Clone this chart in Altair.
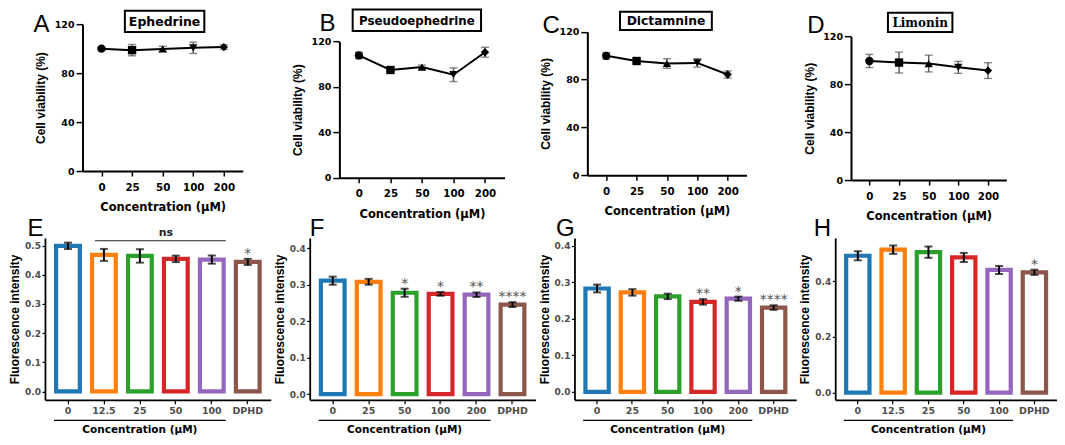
import altair as alt
import pandas as pd

# ---------------- data ----------------
top_conc = ["0", "25", "50", "100", "200"]
top_names = ["Ephedrine", "Pseudoephedrine", "Dictamnine", "Limonin"]
top_letters = ["A", "B", "C", "D"]
ephedrine_mean = [100.0, 98.8, 99.8, 100.7, 101.3]
ephedrine_err = [1.0, 4.6, 2.1, 4.6, 1.9]
pseudo_mean = [107.8, 95.0, 97.6, 90.8, 110.6]
pseudo_err = [2.8, 1.5, 1.7, 6.0, 4.4]
dictamnine_mean = [99.8, 95.5, 93.4, 93.9, 84.2]
dictamnine_err = [2.8, 1.8, 4.0, 3.5, 3.0]
limonin_mean = [99.5, 98.2, 97.4, 94.2, 91.5]
limonin_err = [5.5, 8.7, 7.0, 5.0, 6.6]

bottom_letters = ["E", "F", "G", "H"]
cats_E = ["0", "12.5", "25", "50", "100", "DPHD"]
E_mean = [0.499, 0.468, 0.4645, 0.4545, 0.452, 0.444]
E_err = [0.011, 0.0205, 0.023, 0.011, 0.014, 0.0105]
E_sig = ["", "", "", "", "", "*"]
cats_F = ["0", "25", "50", "100", "200", "DPHD"]
F_mean = [0.311, 0.308, 0.278, 0.2748, 0.2726, 0.2456]
F_err = [0.011, 0.008, 0.011, 0.005, 0.0062, 0.0066]
F_sig = ["", "", "*", "*", "**", "****"]
cats_G = ["0", "25", "50", "100", "200", "DPHD"]
G_mean = [0.2826, 0.272, 0.261, 0.246, 0.2547, 0.2305]
G_err = [0.0106, 0.0088, 0.0075, 0.0075, 0.0057, 0.0062]
G_sig = ["", "", "", "**", "*", "****"]
cats_H = ["0", "12.5", "25", "50", "100", "DPHD"]
H_mean = [0.492, 0.514, 0.505, 0.486, 0.441, 0.4326]
H_err = [0.0163, 0.015, 0.0203, 0.0163, 0.0145, 0.0093]
H_sig = ["", "", "", "", "", "*"]

x_title = "Concentration (μM)"
ytitle_top = "Cell viability (%)"
ytitle_bottom = "Fluorescence intensity"

# ---------------- style ----------------
PALETTE = ["#1f77b4", "#ff7f0e", "#2ca02c", "#d62728", "#9467bd", "#8c564b"]
SHAPES = ["circle", "square", "triangle-up", "triangle-down", "diamond"]
COLW = [226, 226, 222, 222]
ROWH = [156, 162]
WIDE = "DejaVu Sans"
NARROW = "Liberation Sans"


def top_panel(i, means, errs, xr, yr, xoff, box, letter_xy, name_font, name_size):
    df = pd.DataFrame({"conc": top_conc, "mean": means, "err": errs})
    df["lo"] = df["mean"] - df["err"]
    df["hi"] = df["mean"] + df["err"]

    def X(f):
        return alt.X(f"{f}:N", sort=top_conc,
                     scale=alt.Scale(type="point", padding=0.62, range=xr),
                     axis=alt.Axis(title=x_title, labelAngle=0, offset=xoff,
                                   labelFont=WIDE, labelFontWeight="bold", labelFontSize=10.3,
                                   labelColor="black", labelPadding=6,
                                   titleFont=WIDE, titleFontWeight="bold", titleFontSize=11.5,
                                   titleColor="black", titlePadding=9,
                                   tickSize=5, tickWidth=1.5, tickColor="black",
                                   domainColor="black", domainWidth=2))

    def Y(f):
        return alt.Y(f"{f}:Q",
                     scale=alt.Scale(domain=[0, 120], range=yr, nice=False, zero=False),
                     axis=alt.Axis(values=[0, 40, 80, 120], title=ytitle_top, offset=-xr[0],
                                   labelFont=WIDE, labelFontWeight="bold", labelFontSize=9.5,
                                   labelColor="black", labelPadding=2,
                                   titleFont=NARROW, titleFontWeight="bold", titleFontSize=12,
                                   titleColor="black", titlePadding=6.5,
                                   tickSize=6.5, tickWidth=1.5, tickColor="black",
                                   domainColor="black", domainWidth=2, grid=False))

    base = alt.Chart(df)
    rule = base.mark_rule(color="#555555", strokeWidth=1.4).encode(x=X("conc"), y=Y("lo"), y2="hi:Q")
    cap_lo = base.mark_tick(color="#555555", thickness=1.4, size=8).encode(x=X("conc"), y=Y("lo"))
    cap_hi = base.mark_tick(color="#555555", thickness=1.4, size=8).encode(x=X("conc"), y=Y("hi"))
    line = base.mark_line(color="black", strokeWidth=2).encode(x=X("conc"), y=Y("mean"))
    pts = base.mark_point(filled=True, color="black", size=70, opacity=1).encode(
        x=X("conc"), y=Y("mean"),
        shape=alt.Shape("conc:N", scale=alt.Scale(domain=top_conc, range=SHAPES), legend=None))

    deco = pd.DataFrame({"letter": [top_letters[i]], "name": [top_names[i]]})
    bx0, by0, bx1, by1 = box
    rect = alt.Chart(deco).mark_rect(fill="white", stroke="black", strokeWidth=2).encode(
        x=alt.value(bx0), x2=alt.value(bx1), y=alt.value(by0), y2=alt.value(by1))
    name = alt.Chart(deco).mark_text(font=name_font, fontWeight="bold", fontSize=name_size,
                                     align="center", baseline="middle", color="black").encode(
        x=alt.value((bx0 + bx1) / 2), y=alt.value((by0 + by1) / 2 + 0.5), text="name:N")
    letter = alt.Chart(deco).mark_text(font=NARROW, fontSize=24, align="left",
                                       baseline="alphabetic", color="black").encode(
        x=alt.value(letter_xy[0]), y=alt.value(letter_xy[1]), text="letter:N")
    return alt.layer(rule, cap_lo, cap_hi, line, pts, rect, name, letter).properties(
        width=COLW[i], height=ROWH[0])


def bottom_panel(i, cats, means, errs, sigs, ydom, yticks, letter_xy, ns=False):
    df = pd.DataFrame({"cat": cats, "mean": means, "err": errs, "sig": sigs})
    df["lo"] = df["mean"] - df["err"]
    df["hi"] = df["mean"] + df["err"]
    H = ROWH[1]

    def X(f):
        return alt.X(f"{f}:N", sort=cats,
                     scale=alt.Scale(domain=cats, paddingInner=0.34, paddingOuter=0.31),
                     axis=alt.Axis(title=None, labelAngle=0,
                                   labelFont=WIDE, labelFontWeight="bold", labelFontSize=9.5,
                                   labelColor="#4d4d4d", labelPadding=2,
                                   tickSize=4, tickWidth=1.2, tickColor="black",
                                   domainColor="black", domainWidth=1.8))

    def Y(f):
        return alt.Y(f"{f}:Q",
                     scale=alt.Scale(domain=ydom, nice=False, zero=False),
                     axis=alt.Axis(values=yticks, format=".1f", title=ytitle_bottom,
                                   labelFont=WIDE, labelFontWeight="bold", labelFontSize=9,
                                   labelColor="#4d4d4d", labelPadding=1.5,
                                   titleFont=NARROW, titleFontWeight="bold", titleFontSize=12,
                                   titleColor="black", titlePadding=3,
                                   tickSize=3, tickWidth=1.2, tickColor="black",
                                   domainColor="black", domainWidth=1.8, grid=False))

    base = alt.Chart(df)
    bars = base.mark_bar(fill="white", strokeWidth=4.2).encode(
        x=X("cat"), y=Y("mean"),
        stroke=alt.Stroke("cat:N", scale=alt.Scale(domain=cats, range=PALETTE), legend=None))
    rule = base.mark_rule(color="black", strokeWidth=2).encode(x=X("cat"), y=Y("lo"), y2="hi:Q")
    cap_lo = base.mark_tick(color="black", thickness=2, size=8).encode(x=X("cat"), y=Y("lo"))
    cap_hi = base.mark_tick(color="black", thickness=2, size=8).encode(x=X("cat"), y=Y("hi"))
    sig = base.mark_text(font=WIDE, fontSize=14, color="#555555", baseline="alphabetic", dy=-1).encode(
        x=X("cat"), y=Y("hi"), text="sig:N")

    ann = pd.DataFrame({"a": [cats[0]], "b": [cats[4]], "mid": [cats[2]],
                        "title": [x_title], "letter": [bottom_letters[i]]})
    underline = alt.Chart(ann).mark_rule(color="black", strokeWidth=1.2, xOffset=-14, x2Offset=14).encode(
        x=X("a"), x2="b:N", y=alt.value(H + 20.5))
    title = alt.Chart(ann).mark_text(font=WIDE, fontWeight="bold", fontSize=10.5, color="black",
                                     baseline="alphabetic").encode(
        x=X("mid"), y=alt.value(H + 33.5), text="title:N")
    letter = alt.Chart(ann).mark_text(font=NARROW, fontSize=24, align="left",
                                      baseline="alphabetic", color="black").encode(
        x=alt.value(letter_xy[0]), y=alt.value(letter_xy[1]), text="letter:N")
    layers = [bars, rule, cap_lo, cap_hi, sig, underline, title, letter]
    if ns:
        nsdf = pd.DataFrame({"a": [cats[1]], "b": [cats[4]], "mid": [cats[3]], "t": ["ns"]})
        ns_rule = alt.Chart(nsdf).mark_rule(color="#222222", strokeWidth=1.1, xOffset=-9, x2Offset=14).encode(
            x=X("a"), x2="b:N", y=alt.value(2.7))
        ns_text = alt.Chart(nsdf).mark_text(font=WIDE, fontWeight="bold", fontSize=11, color="#222222",
                                            baseline="alphabetic", dx=-10).encode(
            x=X("mid"), y=alt.value(-1.8), text="t:N")
        layers += [ns_rule, ns_text]
    return alt.layer(*layers).properties(width=COLW[i], height=H)


A = top_panel(0, ephedrine_mean, ephedrine_err, [37.6, 198], [147, 0], -9,
              (80, -13.5, 159.5, 7.7), (-11.5, 7.7), WIDE, 12.5)
B = top_panel(1, pseudo_mean, pseudo_err, [29.7, 195], [153.8, 17.4], -2.2,
              (43, -14.7, 171.5, 6.7), (9.8, 6.7), WIDE, 11.8)
C = top_panel(2, dictamnine_mean, dictamnine_err, [12.9, 172.2], [151.2, 7.5], -4.8,
              (45.6, -12.5, 137.5, 5.8), (-32, 8.6), WIDE, 12.3)
D = top_panel(3, limonin_mean, limonin_err, [15.8, 171.3], [156, 12.3], 0,
              (52.8, -11.5, 117.3, 7.7), (-28, 9), "DejaVu Serif", 12)

E = bottom_panel(0, cats_E, E_mean, E_err, E_sig, [-0.029, 0.526], [0, 0.1, 0.2, 0.3, 0.4, 0.5],
                 (-17.5, -1.8), ns=True)
F = bottom_panel(1, cats_F, F_mean, F_err, F_sig, [-0.0154, 0.428], [0, 0.1, 0.2, 0.3, 0.4],
                 (0, -1.8))
G = bottom_panel(2, cats_G, G_mean, G_err, G_sig, [-0.0217, 0.4207], [0, 0.1, 0.2, 0.3, 0.4],
                 (-18.5, -2))
Hp = bottom_panel(3, cats_H, H_mean, H_err, H_sig, [-0.0262, 0.556], [0, 0.2, 0.4],
                  (-21.5, -1.5))

chart = alt.concat(A, B, C, D, E, F, G, Hp, columns=4,
                   spacing={"row": 58, "column": 39}, bounds="flush", align="each").resolve_scale(
    stroke="independent", shape="independent").properties(
    padding=0, background="white").configure_view(stroke=None)

chart.save("out.html", embed_options={"renderer": "svg", "actions": False})
